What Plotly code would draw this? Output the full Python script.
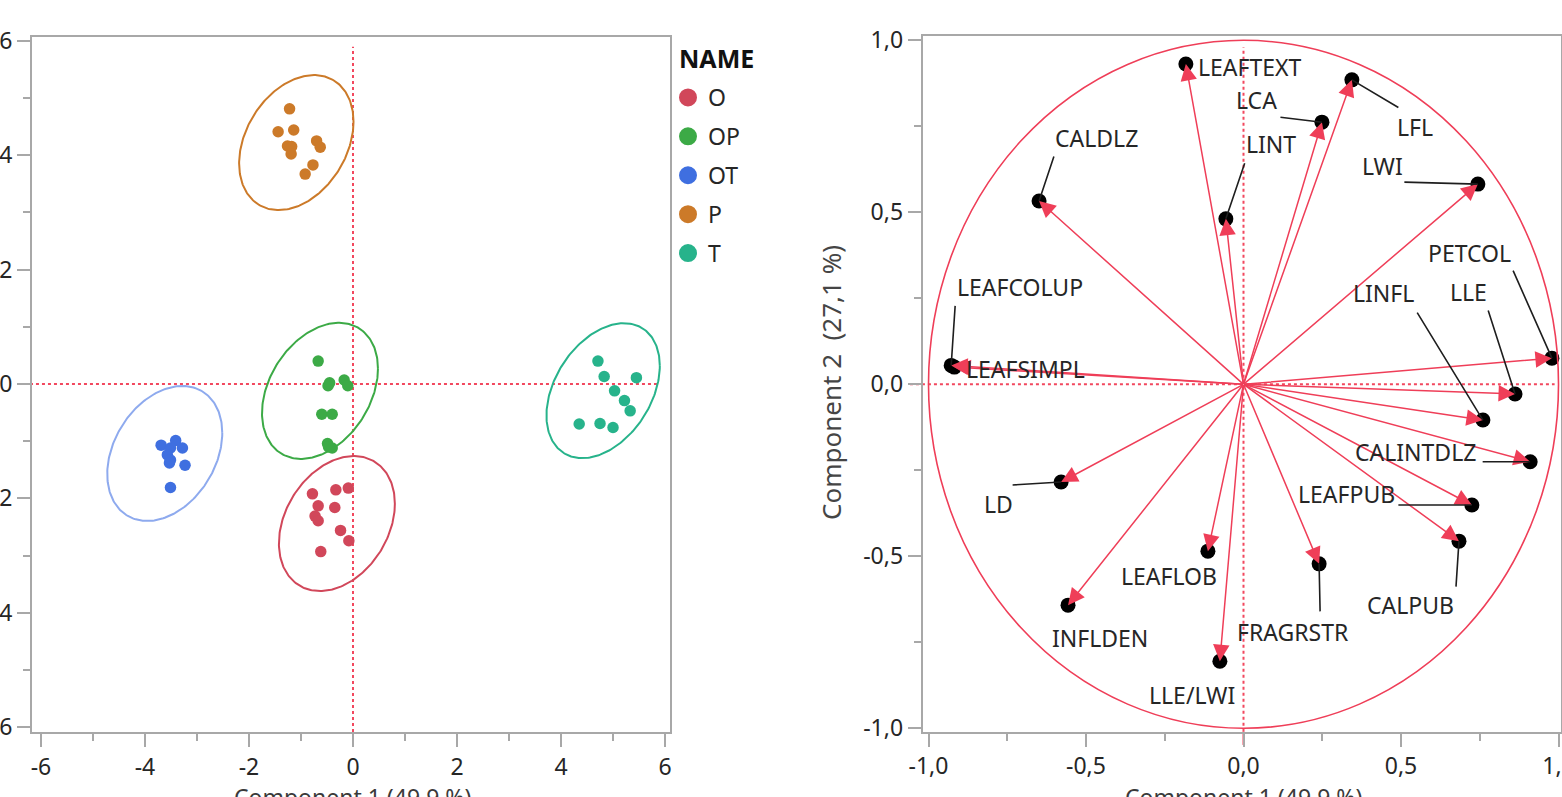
import numpy as np
import plotly.graph_objects as go

# ---------------- Score plot data (Component 1 vs Component 2) ----------------
GROUPS = ["O", "OP", "OT", "P", "T"]

O_X = [-0.78, -0.33, -0.09, -0.67, -0.35, -0.73, -0.67, -0.24, -0.08, -0.62]
O_Y = [-1.92, -1.85, -1.82, -2.13, -2.16, -2.31, -2.39, -2.56, -2.74, -2.93]

OP_X = [-0.67, -0.48, -0.45, -0.17, -0.10, -0.60, -0.40, -0.49, -0.47, -0.40]
OP_Y = [0.40, -0.03, 0.02, 0.07, -0.03, -0.53, -0.53, -1.04, -1.10, -1.12]

OT_X = [-3.69, -3.41, -3.51, -3.28, -3.57, -3.51, -3.53, -3.23, -3.51]
OT_Y = [-1.07, -0.99, -1.12, -1.12, -1.24, -1.33, -1.38, -1.42, -1.81]

P_X = [-1.22, -1.44, -1.14, -1.26, -1.18, -1.19, -0.70, -0.63, -0.77, -0.92]
P_Y = [4.81, 4.41, 4.44, 4.16, 4.15, 4.02, 4.25, 4.14, 3.83, 3.67]

T_X = [4.71, 4.83, 5.45, 5.03, 5.22, 5.33, 4.35, 4.75, 5.00]
T_Y = [0.40, 0.13, 0.11, -0.12, -0.29, -0.47, -0.70, -0.69, -0.76]

# density ellipses: centre, half-width, half-height, x-offset of the top point
ELL_CX = [-0.31, -0.635, -3.62, -1.09, 4.81]
ELL_CY = [-2.44, -0.12, -1.215, 4.22, -0.117]
ELL_W = [1.115, 1.115, 1.106, 1.10, 1.09]
ELL_H = [1.18, 1.19, 1.18, 1.18, 1.18]
ELL_DXTOP = [0.327, 0.365, 0.337, 0.34, 0.40]

# ---------------- Loading plot data ----------------
VARS = ["LEAFTEXT", "LCA", "LFL", "LINT", "CALDLZ", "LWI", "PETCOL", "LLE",
        "LINFL", "CALINTDLZ", "LEAFPUB", "CALPUB", "FRAGRSTR", "LEAFLOB",
        "LLE/LWI", "INFLDEN", "LD", "LEAFCOLUP", "LEAFSIMPL"]
LOAD_X = [-0.183, 0.249, 0.344, -0.056, -0.649, 0.744, 0.979, 0.862,
          0.760, 0.910, 0.725, 0.684, 0.240, -0.113,
          -0.075, -0.557, -0.579, -0.928, -0.918]
LOAD_Y = [0.931, 0.762, 0.885, 0.481, 0.533, 0.582, 0.076, -0.028,
          -0.104, -0.225, -0.351, -0.456, -0.522, -0.485,
          -0.805, -0.642, -0.284, 0.055, 0.050]

# tick labels
SCORE_TICKS = [-6, -4, -2, 0, 2, 4, 6]
SCORE_TICKTEXT = ["-6", "-4", "-2", "0", "2", "4", "6"]
SCORE_MINOR = [-5, -3, -1, 1, 3, 5]
LOAD_TICKS = [-1.0, -0.5, 0.0, 0.5, 1.0]
LOAD_TICKTEXT = ["-1,0", "-0,5", "0,0", "0,5", "1,0"]
LOAD_MINOR = [-0.75, -0.25, 0.25, 0.75]

LEGEND_TITLE = "NAME"
X_TITLE = "Component 1 (49,9 %)"
Y_TITLE = "Component 2  (27,1 %)"

# ---------------- Styling ----------------
W, H = 1562, 797
FONT = "Noto Sans"
GROUP_COLORS = ["#d1475a", "#3caa46", "#3f6fe0", "#cc7a29", "#27b38b"]
ELL_COLORS = ["#d1475a", "#3caa46", "#8eaaee", "#cc7a29", "#27b38b"]
RED = "#ef3e58"
REF_RED = "#f2485f"
FRAME = "#a8a8a8"
TXT = "#262626"

# label placement (pixel offsets from the point): label centre dx, dy, leader tail
LABEL_LAYOUT = {
    "LEAFTEXT": (64.5, 3, None),
    "LCA": (-65.5, -22, (-42, -5)),
    "LFL": (63.5, 47, (47, 28)),
    "LINT": (45, -75, (19, -56)),
    "CALDLZ": (57.5, -63, (15, -45)),
    "LWI": (-95.5, -18, (-74, -2)),
    "PETCOL": (-82, -105, (-39, -88)),
    "LLE": (-46.5, -102, (-27, -84)),
    "LINFL": (-99, -127, (-66, -108)),
    "CALINTDLZ": (-115, -10, (-48, 0)),
    "LEAFPUB": (-125.5, -11, (-74, 0)),
    "CALPUB": (-48.5, 64, (-3, 46)),
    "FRAGRSTR": (-26.5, 68, (1, 48)),
    "LEAFLOB": (-39, 25, None),
    "LLE/LWI": (-28, 34, None),
    "INFLDEN": (32, 33, None),
    "LD": (-63, 22, (-49, 3)),
    "LEAFCOLUP": (69, -78, (4, -60)),
    "LEAFSIMPL": (71, 2, None),
}

fig = go.Figure()

# ---------------- Score plot ----------------
group_xy = {"O": (O_X, O_Y), "OP": (OP_X, OP_Y), "OT": (OT_X, OT_Y),
            "P": (P_X, P_Y), "T": (T_X, T_Y)}
t = np.linspace(0, 2 * np.pi, 241)
for i, g in enumerate(GROUPS):
    M = np.array([[ELL_W[i] ** 2, ELL_DXTOP[i] * ELL_H[i]],
                  [ELL_DXTOP[i] * ELL_H[i], ELL_H[i] ** 2]])
    L = np.linalg.cholesky(M)
    ex = ELL_CX[i] + L[0, 0] * np.cos(t)
    ey = ELL_CY[i] + L[1, 0] * np.cos(t) + L[1, 1] * np.sin(t)
    fig.add_trace(go.Scatter(x=ex, y=ey, mode="lines",
                             line=dict(color=ELL_COLORS[i], width=2),
                             hoverinfo="skip", showlegend=False,
                             xaxis="x", yaxis="y"))
for i, g in enumerate(GROUPS):
    xs, ys = group_xy[g]
    fig.add_trace(go.Scatter(x=xs, y=ys, mode="markers", name=g,
                             marker=dict(size=11.5, color=GROUP_COLORS[i]),
                             showlegend=False, xaxis="x", yaxis="y"))
# legend-only entries
for i, g in enumerate(GROUPS):
    fig.add_trace(go.Scatter(x=[None], y=[None], mode="markers", name=g,
                             legendgroup=g,
                             marker=dict(size=16, color=GROUP_COLORS[i],
                                         line=dict(width=2, color=GROUP_COLORS[i])),
                             showlegend=True, xaxis="x", yaxis="y"))

# ---------------- Loading plot ----------------
fig.add_trace(go.Scatter(x=LOAD_X, y=LOAD_Y, mode="markers",
                         marker=dict(size=15, color="black"),
                         text=VARS, hoverinfo="text", showlegend=False,
                         xaxis="x2", yaxis="y2"))

annotations = []
for v, lx, ly in zip(VARS, LOAD_X, LOAD_Y):
    # red arrow from origin
    annotations.append(dict(x=lx, y=ly, ax=0, ay=0, xref="x2", yref="y2",
                            axref="x2", ayref="y2", text="", showarrow=True,
                            arrowhead=2, arrowsize=2.2, arrowwidth=1.5,
                            arrowcolor=RED, standoff=0, font=dict(size=1),
                            borderpad=0))
for v, lx, ly in zip(VARS, LOAD_X, LOAD_Y):
    dx, dy, leader = LABEL_LAYOUT[v]
    if leader is not None:
        annotations.append(dict(x=lx, y=ly, ax=leader[0], ay=leader[1],
                                xref="x2", yref="y2", text="", showarrow=True,
                                arrowhead=0, arrowwidth=1.6, arrowcolor="#1e1e1e",
                                standoff=0, font=dict(size=1), borderpad=0))
    annotations.append(dict(x=lx, y=ly, xref="x2", yref="y2", text=v,
                            showarrow=False, xanchor="center", yanchor="middle",
                            xshift=dx, yshift=-dy,
                            font=dict(family=FONT, size=23, color=TXT)))

# axis titles and legend title
annotations += [
    dict(x=352 / W, y=0.0, xref="paper", yref="paper", text=X_TITLE,
         showarrow=False, xanchor="center", yanchor="middle",
         font=dict(family=FONT, size=23, color="#3a3a3a")),
    dict(x=1243 / W, y=0.0, xref="paper", yref="paper", text=X_TITLE,
         showarrow=False, xanchor="center", yanchor="middle",
         font=dict(family=FONT, size=23, color="#3a3a3a")),
    dict(x=831 / W, y=1 - 383 / H, xref="paper", yref="paper", text=Y_TITLE,
         showarrow=False, xanchor="center", yanchor="middle", textangle=-90,
         font=dict(family=FONT, size=26, color="#454545")),
    dict(x=677 / W, y=1 - 58 / H, xref="paper", yref="paper",
         text="<b>" + LEGEND_TITLE + "</b>", showarrow=False,
         xanchor="left", yanchor="middle",
         font=dict(family=FONT, size=25, color="#111")),
]

dotted = dict(color=REF_RED, width=2, dash="3px,3px")
shapes = [
    # score plot reference lines
    dict(type="line", xref="x domain", yref="y", x0=-0.022, x1=0.984, y0=0, y1=0,
         line=dotted, layer="below"),
    dict(type="line", xref="x", yref="y domain", x0=0, x1=0, y0=0, y1=0.986,
         line=dotted, layer="below"),
    dict(type="line", xref="x", yref="y domain", x0=0, x1=0, y0=-0.019, y1=0,
         line=dict(color=REF_RED, width=2), layer="below"),
    # loading plot reference lines
    dict(type="line", xref="x2 domain", yref="y2", x0=-0.02, x1=0.99, y0=0, y1=0,
         line=dotted, layer="below"),
    dict(type="line", xref="x2", yref="y2 domain", x0=0, x1=0, y0=0, y1=0.984,
         line=dotted, layer="below"),
    dict(type="line", xref="x2", yref="y2 domain", x0=0, x1=0, y0=-0.019, y1=0,
         line=dict(color=REF_RED, width=2), layer="below"),
    # unit circle
    dict(type="circle", xref="x2", yref="y2", x0=-1, x1=1, y0=-1, y1=1,
         line=dict(color=RED, width=1.6)),
]


def axis(domain, rng, tickvals, ticktext, minorvals, anchor, ticklen_major=13):
    return dict(domain=domain, range=rng, anchor=anchor,
                tickmode="array", tickvals=tickvals, ticktext=ticktext,
                ticks="outside", ticklen=ticklen_major, tickwidth=1.5,
                tickcolor=FRAME, showline=True, linecolor=FRAME, linewidth=2,
                mirror=True, showgrid=False, zeroline=False,
                tickfont=dict(family=FONT, size=23, color=TXT),
                ticklabelstandoff=0, ticklabeloverflow="allow",
                minor=dict(tickmode="array", tickvals=minorvals, ticks="outside",
                           ticklen=7, tickwidth=1.5, tickcolor=FRAME,
                           showgrid=False),
                automargin=False, fixedrange=True)


fig.update_layout(
    width=W, height=H, margin=dict(l=0, r=0, t=0, b=0),
    template="none", paper_bgcolor="white", plot_bgcolor="white",
    font=dict(family=FONT, color=TXT),
    xaxis=axis([32 / W, 670 / W], [-6.173, 6.096], SCORE_TICKS, SCORE_TICKTEXT,
               SCORE_MINOR, "y"),
    yaxis=axis([1 - 732 / H, 1 - 37 / H], [-6.084, 6.066], SCORE_TICKS,
               SCORE_TICKTEXT, SCORE_MINOR, "x"),
    xaxis2=axis([922.7 / W, 1561 / W], [-1.0184, 1.0079], LOAD_TICKS,
                LOAD_TICKTEXT, LOAD_MINOR, "y2"),
    yaxis2=axis([1 - 731.7 / H, 1 - 36 / H], [-1.0099, 1.0125], LOAD_TICKS,
                LOAD_TICKTEXT, LOAD_MINOR, "x2"),
    legend=dict(x=668 / W, y=1 - 76 / H, xanchor="left", yanchor="top",
                bgcolor="rgba(0,0,0,0)", traceorder="grouped",
                tracegroupgap=6, itemsizing="trace",
                font=dict(family=FONT, size=23, color=TXT)),
    shapes=shapes,
    annotations=annotations,
    showlegend=True,
)

fig.write_html("out.html",
               config={"displayModeBar": False},
               post_script="document.body.style.margin='0';"
                           "document.body.style.overflow='hidden';")
